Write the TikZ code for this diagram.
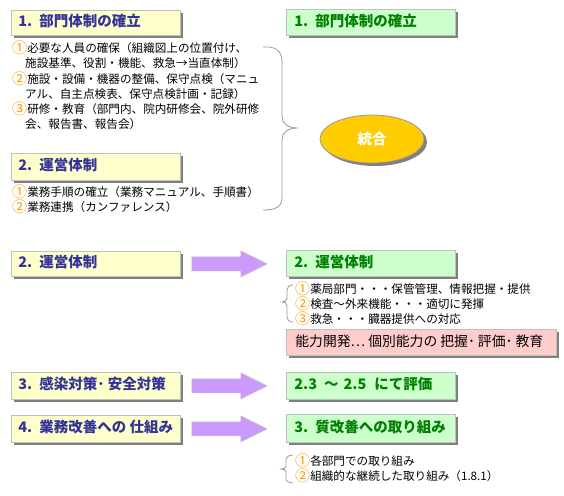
\documentclass[tikz,border=0pt]{standalone}
\usepackage{fontspec}
\setmainfont{Noto Sans CJK JP}
\usetikzlibrary{shadows,calc,shapes.geometric}
\definecolor{boxyellow}{HTML}{FFFFCC}
\definecolor{boxgreen}{HTML}{CCFFCC}
\definecolor{boxpink}{HTML}{FFCCCC}
\definecolor{titleblue}{HTML}{333399}
\definecolor{titlegreen}{HTML}{008000}
\definecolor{numorange}{HTML}{FF9900}
\definecolor{edgegray}{HTML}{BFBFBF}
\definecolor{shadowgray}{HTML}{808080}
\definecolor{arrowpurple}{HTML}{CC99FF}
\definecolor{ellipsegold}{HTML}{FFCC00}
\definecolor{bracegray}{HTML}{999999}
\newcommand{\cnum}[1]{\textcolor{numorange}{\raisebox{-0.7pt}{\scalebox{1.3}{#1}}}}
\newcommand{\pfx}[1]{\makebox[21pt][l]{#1}}
\newcommand{\mkarrow}[2]{%
  \draw[bigarrow] let \p1=(#1.east), \p2=(#2.west) in
    (\x1+11pt,\y1+7pt) -- (\x1+60pt,\y1+7pt) -- (\x1+60pt,\y1+13pt) --
    (\x2-19pt,\y1) -- (\x1+60pt,\y1-13pt) -- (\x1+60pt,\y1-7pt) --
    (\x1+11pt,\y1-7pt) -- cycle;}
\begin{document}
\begin{tikzpicture}[x=1pt,y=-1pt,
  shadowed/.style={drop shadow={shadow xshift=3pt,shadow yshift=-3pt,fill=shadowgray,opacity=1}},
  titlebox/.style={shadowed,draw=edgegray,line width=0.8pt,anchor=north west,
    inner ysep=0pt,font=\fontsize{14.5}{17}\selectfont\bfseries,text height=0.88em,text depth=0.12em},
  ybox/.style={titlebox,fill=boxyellow,text=titleblue,inner xsep=7pt},
  gbox/.style={titlebox,fill=boxgreen,text=titlegreen,inner xsep=8pt},
  pinkbox/.style={shadowed,draw=edgegray,line width=0.8pt,anchor=north west,fill=boxpink,
    inner xsep=9pt,inner ysep=0pt,font=\fontsize{13.8}{16}\selectfont,
    text height=0.88em,text depth=0.12em},
  bodyline/.style={anchor=west,inner sep=0pt,font=\fontsize{11.6}{15}\selectfont,
    text height=0.88em,text depth=0.12em},
  bigarrow/.style={draw=edgegray,line width=0.6pt,fill=arrowpurple},
  bracepath/.style={draw=bracegray,line width=0.8pt},
  ovalnode/.style={shadowed,ellipse,draw=bracegray,line width=0.8pt,fill=ellipsegold,
    minimum width=104pt,minimum height=48pt,text=white,font=\fontsize{14.5}{17}\selectfont\bfseries},
]
\useasboundingbox (0,0) rectangle (564,495);
\fill[white] (0,0) rectangle (564,495);

% ---------- top section ----------
\node[ybox,minimum height=25pt] (y1) at (11,10) {\makebox[155pt][l]{\pfx{1.}部門体制の確立}};
\node[gbox,minimum height=26pt] (g1) at (286,9) {\makebox[153pt][l]{\pfx{1.}部門体制の確立}};

\node[bodyline] (a1) at (12,49) {\cnum{①}必要な人員の確保（組織図上の位置付け、};
\node[bodyline] (a2) at (25,64) {施設基準、役割・機能、救急→当直体制）};
\node[bodyline] (a3) at (12,80) {\cnum{②}施設・設備・機器の整備、保守点検（マニュ};
\node[bodyline] (a4) at (25,95) {アル、自主点検表、保守点検計画・記録）};
\node[bodyline] (a5) at (12,110) {\cnum{③}研修・教育（部門内、院内研修会、院外研修};
\node[bodyline] (a6) at (25,125) {会、報告書、報告会）};

\node[ybox,minimum height=27pt] (y1b) at (11,153) {\makebox[155pt][l]{\pfx{2.}運営体制}};
\node[bodyline] (b1) at (12,193) {\cnum{①}業務手順の確立（業務マニュアル、手順書）};
\node[bodyline] (b2) at (12,208) {\cnum{②}業務連携（カンファレンス）};

\draw[bracepath] (263,47) .. controls (276,46) and (282,51) .. (282,62) -- (282,116)
  .. controls (282,124) and (288,128) .. (298,128)
  .. controls (288,128) and (282,132) .. (282,140) -- (282,197)
  .. controls (282,207) and (276,210) .. (263,210);

\node[ovalnode] (tougou) at (372,139) {統合};

% ---------- row 2 ----------
\node[ybox,minimum height=25pt] (y2) at (11,251) {\makebox[155pt][l]{\pfx{2.}運営体制}};
\node[gbox,minimum height=26pt] (g2) at (286,250) {\makebox[153pt][l]{\pfx{2.}運営体制}};
\mkarrow{y2}{g2}

\draw[bracepath] (293,285) .. controls (289,285) and (287,287) .. (287,290) -- (287,298)
  .. controls (287,301) and (285,302) .. (282,302)
  .. controls (285,302) and (287,303) .. (287,306) -- (287,317)
  .. controls (287,320) and (289,322) .. (293,322);
\node[bodyline] (c1) at (295,290) {\cnum{①}薬局部門・・・保管管理、情報把握・提供};
\node[bodyline] (c2) at (295,305) {\cnum{②}検査～外来機能・・・適切に発揮};
\node[bodyline] (c3) at (295,320) {\cnum{③}救急・・・臓器提供への対応};

\node[pinkbox,minimum height=26pt] (pk) at (286,329) {\makebox[252pt][l]{能力開発… 個別能力の 把握･ 評価･ 教育}};

% ---------- row 3 ----------
\node[ybox,minimum height=27pt] (y3) at (11,372) {\makebox[155pt][l]{\pfx{3.}感染対策･ 安全対策}};
\node[gbox,minimum height=27pt] (g3) at (286,372) {\makebox[153pt][l]{2.3\hspace{7pt}～\hspace{5pt}2.5\hspace{8pt}にて評価}};
\mkarrow{y3}{g3}

% ---------- row 4 ----------
\node[ybox,minimum height=27pt] (y4) at (11,415) {\makebox[155pt][l]{\pfx{4.}業務改善への 仕組み}};
\node[gbox,minimum height=28pt] (g4) at (286,414) {\makebox[153pt][l]{\pfx{3.}質改善への取り組み}};
\mkarrow{y4}{g4}

\draw[bracepath] (293,455) .. controls (289,455) and (286,457) .. (286,460) -- (286,466)
  .. controls (286,468) and (284,469) .. (281,469)
  .. controls (284,469) and (286,470) .. (286,472) -- (286,479)
  .. controls (286,481) and (289,483) .. (293,483);
\node[bodyline] (d1) at (295,462) {\cnum{①}各部門での取り組み};
\node[bodyline] (d2) at (295,477) {\cnum{②}組織的な継続した取り組み（1.8.1）};
\end{tikzpicture}
\end{document}
